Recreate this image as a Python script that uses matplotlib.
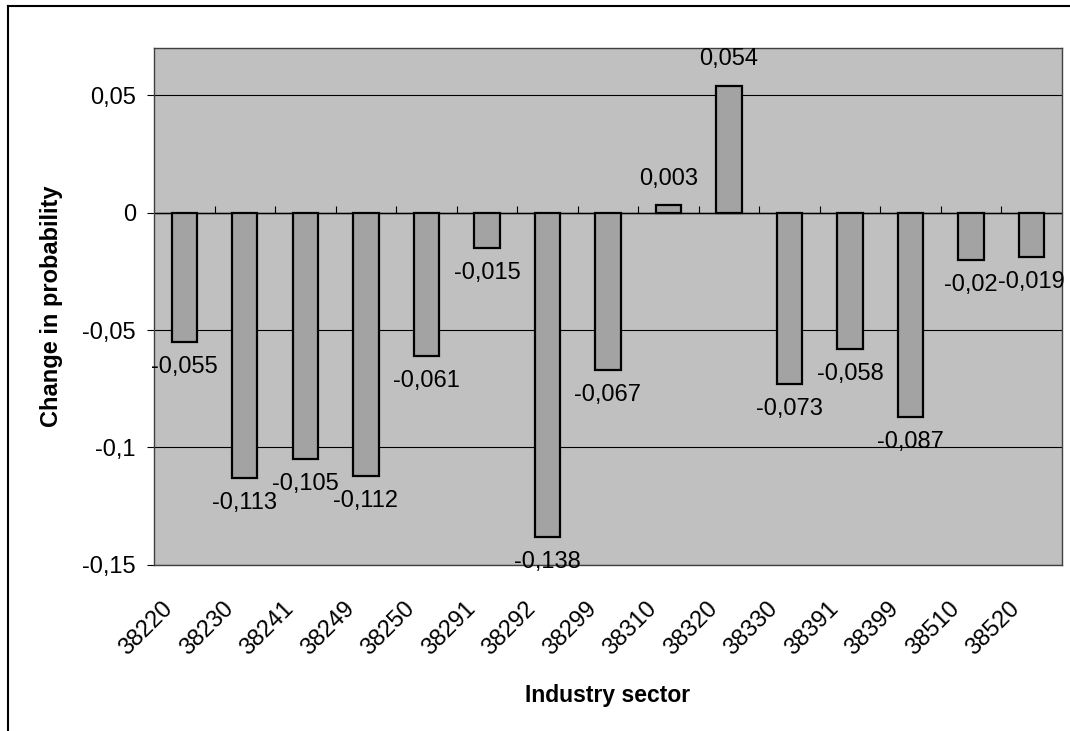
import matplotlib.pyplot as plt
from matplotlib.lines import Line2D
from matplotlib.transforms import ScaledTranslation

# Data
sectors = ['38220', '38230', '38241', '38249', '38250', '38291', '38292', '38299',
           '38310', '38320', '38330', '38391', '38399', '38510', '38520']
changes = [-0.055, -0.113, -0.105, -0.112, -0.061, -0.015, -0.138, -0.067,
           0.003, 0.054, -0.073, -0.058, -0.087, -0.02, -0.019]
y_ticks = [-0.15, -0.1, -0.05, 0, 0.05]
y_tick_labels = ['-0,15', '-0,1', '-0,05', '0', '0,05']

plt.rcParams['font.family'] = ['Liberation Sans', 'DejaVu Sans']

fig = plt.figure(figsize=(10.7, 7.31), dpi=100)
ax = fig.add_axes([0.1439, 0.2271, 0.8486, 0.7072])
ax.set_facecolor('#c0c0c0')

x = list(range(len(sectors)))
ax.bar(x, changes, width=0.42, color='#a3a3a3', edgecolor='black', linewidth=1.6, zorder=3)

ax.set_xlim(-0.5, len(sectors) - 0.5)
ax.set_ylim(-0.15, 0.07)

# Horizontal gridlines
ax.set_yticks(y_ticks)
ax.set_yticklabels(y_tick_labels, fontsize=17)
ax.yaxis.grid(True, color='black', linewidth=0.8, zorder=1)
ax.tick_params(axis='y', direction='out', length=5, pad=8)

# Category labels at the bottom, rotated
ax.set_xticks(x)
ax.set_xticklabels(sectors, fontsize=17, rotation=45, ha='right', va='center',
                   rotation_mode='anchor')
ax.tick_params(axis='x', length=0, pad=29)
shift = ScaledTranslation(-15 / 100, 0, fig.dpi_scale_trans)
for lab in ax.get_xticklabels():
    lab.set_transform(lab.get_transform() + shift)

for sp in ax.spines.values():
    sp.set_color('#404040')
    sp.set_linewidth(1)

# Category axis crossing at zero with tick marks between categories
ax.axhline(0, color='black', linewidth=1, zorder=2)
zero_ax = ax.secondary_xaxis(0.15 / 0.22)
zero_ax.set_xticks([i + 0.5 for i in x[:-1]])
zero_ax.set_xticklabels([])
zero_ax.tick_params(axis='x', direction='out', length=5, width=0.8)
zero_ax.spines['bottom'].set_visible(False)

# Value labels
for xi, v in zip(x, changes):
    txt = ('%g' % v).replace('.', ',')
    off = 19 if v > 0 else -18
    ax.annotate(txt, (xi, v), xytext=(0, off), textcoords='offset points',
                ha='center', va='center', fontsize=17, zorder=4)

ax.set_ylabel('Change in probability', fontsize=17, fontweight='bold', labelpad=14)
ax.set_xlabel('Industry sector', fontsize=16.5, fontweight='bold', labelpad=18)

# Outer frame (left and top edges visible)
fig.add_artist(Line2D([8 / 1070, 8 / 1070], [0, 1 - 6 / 731], transform=fig.transFigure,
                      color='black', linewidth=1.5))
fig.add_artist(Line2D([8 / 1070, 1], [1 - 6 / 731, 1 - 6 / 731], transform=fig.transFigure,
                      color='black', linewidth=1.5))

fig.savefig('out.png', dpi=100)
